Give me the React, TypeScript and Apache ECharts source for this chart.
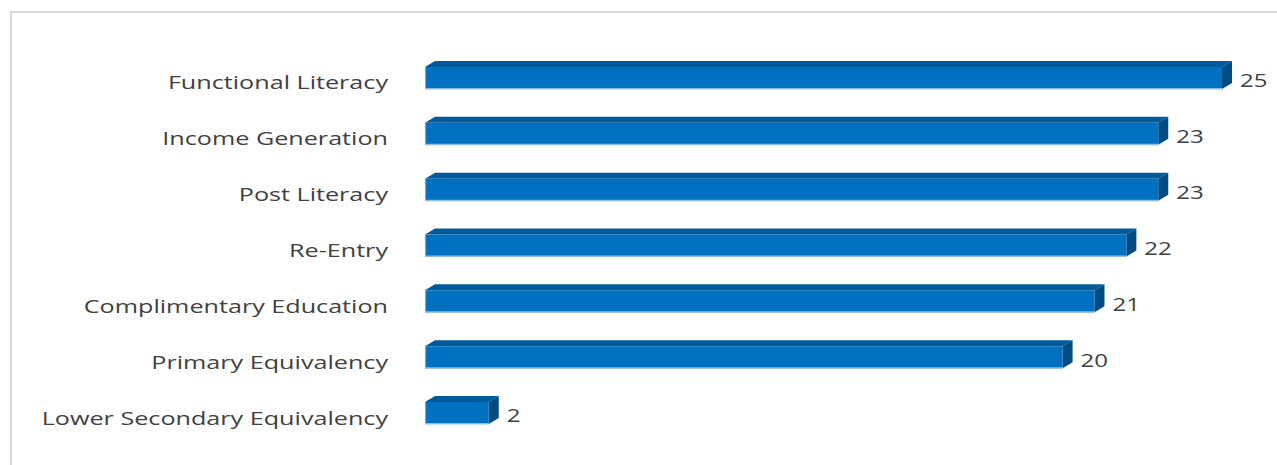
import React, { useEffect, useRef } from "react";
import * as echarts from "echarts";

const categories = [
  "Functional Literacy",
  "Income Generation",
  "Post Literacy",
  "Re-Entry",
  "Complimentary Education",
  "Primary Equivalency",
  "Lower Secondary Equivalency",
];
const values = [25, 23, 23, 22, 21, 20, 2];

const FRONT = "#0070C0";
const TOP = "#005A9C";
const SIDE = "#004B84";
const EDGE = "#8FBCE6";
const BAR_H = 22;
const DX = 10;
const DY = -6;
const FONT = "Open Sans";
const TEXT_COLOR = "#404040";

export default function App() {
  const ref = useRef<HTMLDivElement>(null);
  useEffect(() => {
    const chart = echarts.init(ref.current!, null, { renderer: "svg" });
    const data = values.map((v, i) => [v, i]);
    chart.setOption({
      animation: false,
      backgroundColor: "#ffffff",
      grid: { left: 425, right: 55, top: 50, bottom: 24, containLabel: false },
      xAxis: {
        type: "value",
        min: 0,
        max: 25,
        show: false,
      },
      yAxis: {
        type: "category",
        data: categories,
        inverse: true,
        axisLine: { show: false },
        axisTick: { show: false },
        splitLine: { show: false },
        axisLabel: { show: false },
      },
      graphic: [
        {
          type: "rect",
          shape: { x: 11, y: 12, width: 1300, height: 500 },
          style: { fill: "none", stroke: "#D9D9D9", lineWidth: 2 },
          silent: true,
        },
      ],
      series: [
        {
          type: "custom",
          data,
          clip: false,
          renderItem: (params: any, api: any) => {
            const v = api.value(0);
            const idx = api.value(1);
            const start = api.coord([0, idx]);
            const end = api.coord([v, idx]);
            const x0 = start[0];
            const x1 = end[0];
            const yc = start[1];
            const yt = yc - BAR_H / 2;
            const yb = yc + BAR_H / 2;
            return {
              type: "group",
              children: [
                {
                  type: "polygon",
                  shape: {
                    points: [
                      [x0, yt],
                      [x0 + DX, yt + DY],
                      [x1 + DX, yt + DY],
                      [x1, yt],
                    ],
                  },
                  style: { fill: TOP },
                },
                {
                  type: "polygon",
                  shape: {
                    points: [
                      [x1, yt],
                      [x1 + DX, yt + DY],
                      [x1 + DX, yb + DY],
                      [x1, yb],
                    ],
                  },
                  style: { fill: SIDE },
                },
                {
                  type: "rect",
                  shape: { x: x0, y: yt, width: x1 - x0, height: BAR_H },
                  style: { fill: FRONT },
                },
                {
                  type: "rect",
                  shape: { x: x0, y: yb - 1, width: x1 - x0, height: 1.5 },
                  style: { fill: EDGE },
                },
                {
                  type: "rect",
                  shape: { x: x0, y: yt, width: 1.2, height: BAR_H },
                  style: { fill: EDGE, opacity: 0.7 },
                },
                {
                  type: "text",
                  x: x0 - 37,
                  y: yc + 4,
                  scaleX: 1.36,
                  style: {
                    x: 0,
                    y: 0,
                    text: categories[idx],
                    fill: TEXT_COLOR,
                    fontSize: 18.5,
                    fontFamily: FONT,
                    verticalAlign: "middle",
                    align: "right",
                  },
                },
                {
                  type: "text",
                  x: x1 + DX + 8,
                  y: yc + 2,
                  scaleX: 1.3,
                  style: {
                    x: 0,
                    y: 0,
                    text: String(v),
                    fill: TEXT_COLOR,
                    fontSize: 18.5,
                    fontFamily: FONT,
                    verticalAlign: "middle",
                    align: "left",
                  },
                },
              ],
            };
          },
        },
      ],
    });
    return () => chart.dispose();
  }, []);
  return (
    <div
      ref={ref}
      style={{ position: "fixed", left: 0, top: 0, width: 1277, height: 465 }}
    />
  );
}
